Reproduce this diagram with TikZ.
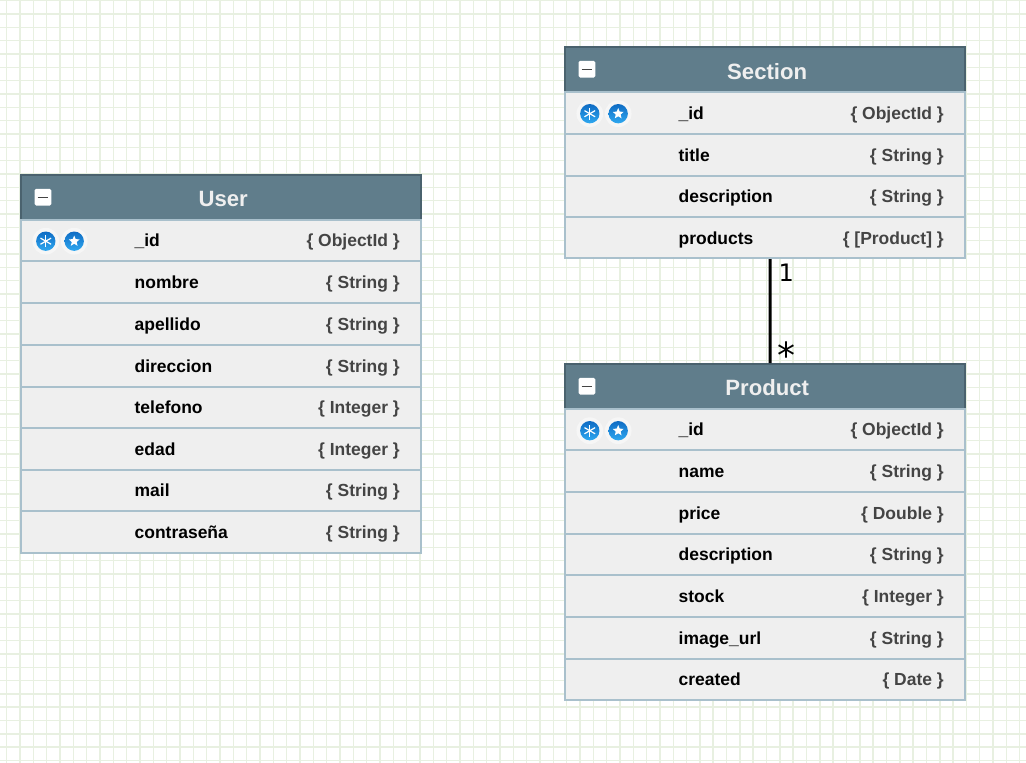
\documentclass[tikz,border=0pt]{standalone}
\usepackage{fontspec}
\setmainfont{Liberation Sans}
\newfontfamily\monofam{DejaVu Sans}
\usetikzlibrary{shapes.geometric}
\definecolor{gridc}{HTML}{E8F0E1}
\definecolor{headc}{HTML}{607D8B}
\definecolor{headb}{HTML}{4A626E}
\definecolor{rowc}{HTML}{EFEFEF}
\definecolor{sepc}{HTML}{A9C0CC}
\definecolor{typec}{HTML}{444444}
\definecolor{icontop}{HTML}{0F6CC4}
\definecolor{iconbot}{HTML}{2FA8F0}
\tikzset{
  x=0.75pt,y=-0.75pt,
  gridline/.style={draw=gridc,line width=1.05pt},
  head/.style={draw=headb,line width=1.4pt,fill=headc,minimum width=300pt,inner sep=0pt,anchor=north west},
  row/.style={draw=sepc,line width=1.5pt,fill=rowc,minimum width=300pt,inner sep=0pt,anchor=north west},
  title/.style={text=rowc,font=\fontsize{16.6pt}{20pt}\selectfont\bfseries,inner sep=0pt,anchor=center},
  attr/.style={text=black,font=\fontsize{13.1pt}{16pt}\selectfont\bfseries,inner sep=0pt,anchor=base west},
  kind/.style={text=typec,font=\fontsize{13.1pt}{16pt}\selectfont\bfseries,inner sep=0pt,anchor=base east},
  minusbox/.style={fill=white,rounded corners=1.2pt,minimum size=12.6pt,inner sep=0pt},
  minusbar/.style={draw=typec,line width=1pt},
  halo/.style={circle,fill=white,fill opacity=0.45,minimum size=20pt,inner sep=0pt},
  icon/.style={circle,top color=icontop,bottom color=iconbot,minimum size=14.5pt,inner sep=0pt},
  glyphstar/.style={star,star points=5,star point ratio=2.2,fill=white,minimum size=8.5pt,inner sep=0pt},
  rel/.style={draw=black,line width=2.2pt},
  card/.style={font=\monofam\fontsize{18pt}{20pt}\selectfont,inner sep=0pt},
  cardbig/.style={font=\monofam\fontsize{27pt}{30pt}\selectfont,inner sep=0pt},
}
\newcommand{\tblhead}[5]{%
  \node[head,minimum height={(#4-#3)*0.75pt}] (#1) at (#2,#3) {};
  \node[title] (#1t) at (#2+203,{(#3+#4)/2+2.5}) {#5};
  \node[minusbox] (#1m) at (#2+22.7,#3+23) {};
  \draw[minusbar] ([xshift=-4pt]#1m.center) -- ([xshift=4pt]#1m.center);
}
\newcommand{\attrrow}[6]{%
  \node[row,minimum height={(#4-#3)*0.75pt}] (#1) at (#2,#3) {};
  \node[attr] (#1a) at (#2+114.2,{(#3+#4)/2+7.5}) {#5};
  \node[kind] (#1k) at (#2+379.8,{(#3+#4)/2+7.5}) {#6};
}
\newcommand{\keyicons}[3]{%
  \node[halo] (#1ha) at (#2+25.6,#3) {};
  \node[halo] (#1hb) at (#2+54,#3) {};
  \node[icon] (#1ia) at (#2+25.6,#3) {};
  \node[icon] (#1ib) at (#2+54,#3) {};
  \foreach \ang in {90,150,210,270,330,30}{
    \draw[white,line width=0.9pt] (#1ia.center) -- ++(\ang:4.6pt);
  }
  \node[glyphstar] (#1s) at (#1ib.center) {};
}
\begin{document}
\begin{tikzpicture}
\useasboundingbox (0,0) rectangle (1026,763);
\fill[white] (0,0) rectangle (1026,763);
\foreach \i in {0,...,76}{ \draw[gridline] ({6.7+13.33*\i},0) -- ({6.7+13.33*\i},763); }
\foreach \i in {0,...,57}{ \draw[gridline] (0,{0.7+13.33*\i}) -- (1026,{0.7+13.33*\i}); }

\begin{scope}[xshift=-0.6pt,yshift=0.6pt]
% User
\tblhead{u}{21}{175}{219.5}{User}
\attrrow{ua}{21}{219.5}{261}{\_id}{\{ ObjectId \}}
\attrrow{ub}{21}{261}{303}{nombre}{\{ String \}}
\attrrow{uc}{21}{303}{345}{apellido}{\{ String \}}
\attrrow{ud}{21}{345}{386.5}{direccion}{\{ String \}}
\attrrow{ue}{21}{386.5}{428}{telefono}{\{ Integer \}}
\attrrow{uf}{21}{428}{469.5}{edad}{\{ Integer \}}
\attrrow{ug}{21}{469.5}{511}{mail}{\{ String \}}
\attrrow{uh}{21}{511}{552.5}{contraseña}{\{ String \}}
\keyicons{uk}{21}{242}

% Section
\tblhead{s}{565}{47}{92}{Section}
\attrrow{sa}{565}{92}{133.5}{\_id}{\{ ObjectId \}}
\attrrow{sb}{565}{133.5}{175.5}{title}{\{ String \}}
\attrrow{sc}{565}{175.5}{217}{description}{\{ String \}}
\attrrow{sd}{565}{217}{258}{products}{\{ [Product] \}}
\keyicons{sk}{565}{114.5}

% Product
\tblhead{p}{565}{364}{408.5}{Product}
\attrrow{pa}{565}{408.5}{450}{\_id}{\{ ObjectId \}}
\attrrow{pb}{565}{450}{491.5}{name}{\{ String \}}
\attrrow{pc}{565}{491.5}{533.5}{price}{\{ Double \}}
\attrrow{pd}{565}{533.5}{575}{description}{\{ String \}}
\attrrow{pe}{565}{575}{616.5}{stock}{\{ Integer \}}
\attrrow{pf}{565}{616.5}{658.5}{image\_url}{\{ String \}}
\attrrow{pg}{565}{658.5}{700}{created}{\{ Date \}}
\keyicons{pk}{565}{431.5}

% relation
\draw[rel] ([xshift=3.75pt]sd.south) -- ([xshift=3.75pt]p.north);
\node[card] (one) at (787,274) {1};
\node[cardbig] (many) at (787,356) {*};
\end{scope}
\end{tikzpicture}
\end{document}
